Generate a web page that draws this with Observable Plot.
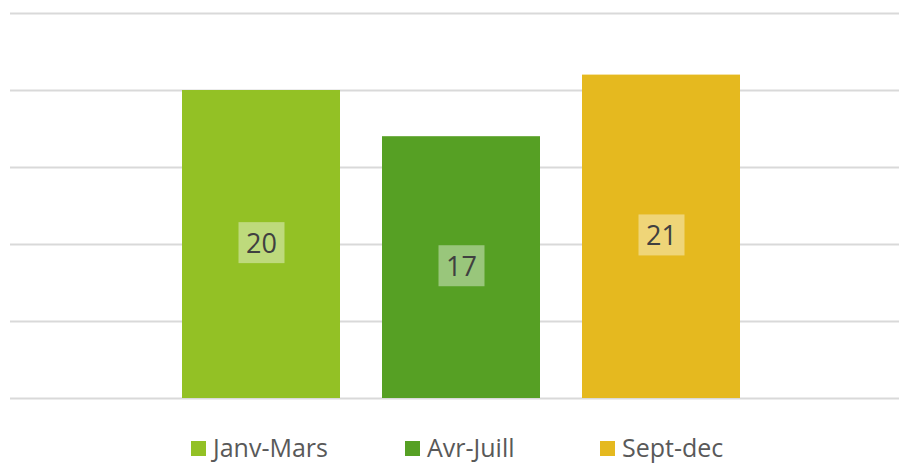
<!DOCTYPE html>
<html>
<head>
<meta charset="utf-8">
<script src="https://cdn.jsdelivr.net/npm/d3@7"></script>
<script src="https://cdn.jsdelivr.net/npm/@observablehq/plot@0.6"></script>
<style>
  html, body { margin: 0; padding: 0; background: #fff; }
  #wrap { position: relative; width: 899px; height: 464px; }
  #legend { position: absolute; top: 432px; left: 0; width: 899px; height: 30px; font-family: "Open Sans", sans-serif; font-size: 25px; line-height: 30px; color: #595959; }
  .item { position: absolute; top: 0; display: flex; align-items: center; height: 30px; white-space: nowrap; }
  .sw { width: 15px; height: 15px; margin-right: 7px; margin-top: 2px; }
</style>
</head>
<body>
<div id="wrap"><div id="chart"></div><div id="legend"></div></div>
<script>
const categories = ["Janv-Mars", "Avr-Juill", "Sept-dec"];
const values = [20, 17, 21];
const colors = ["#93C125", "#56A024", "#E5B91F"];
const gridTicks = [0, 5, 10, 15, 20, 25];

const data = categories.map((c, i) => ({category: c, value: values[i]}));

const chart = Plot.plot({
  width: 899,
  height: 420,
  marginTop: 13,
  marginBottom: 22,
  marginLeft: 10,
  marginRight: 0,
  x: {domain: categories, range: [161, 761], paddingInner: 0.21, paddingOuter: 0.105, axis: null},
  y: {domain: [0, 25], axis: null},
  color: {domain: categories, range: colors},
  marks: [
    Plot.ruleY(gridTicks, {stroke: "#d9d9d9", strokeWidth: 2}),
    Plot.barY(data, {x: "category", y: "value", fill: "category"}),
    Plot.text(data, {x: "category", y: d => d.value / 2, text: d => String(d.value),
      fill: "#404040", fontSize: 27, fontFamily: "Open Sans, sans-serif", className: "vlabel"})
  ]
});
document.getElementById("chart").appendChild(chart);

// white semi-transparent boxes behind value labels
d3.select(chart).selectAll(".vlabel text").each(function() {
  const bb = this.getBBox();
  const w = 46, h = 41;
  const cx = bb.x + bb.width / 2, cy = bb.y + bb.height / 2;
  const r = d3.select(this.parentNode).insert("rect", () => this)
    .attr("x", cx - w / 2).attr("y", cy - h / 2)
    .attr("width", w).attr("height", h)
    .attr("fill", "#ffffff").attr("fill-opacity", 0.4);
  const t = this.getAttribute("transform");
  if (t) r.attr("transform", t);
});

const legendLeft = [191, 405, 600];
const legend = d3.select("#legend");
categories.forEach((c, i) => {
  const it = legend.append("div").attr("class", "item").style("left", legendLeft[i] + "px");
  it.append("div").attr("class", "sw").style("background", colors[i]);
  it.append("span").text(c);
});
</script>
</body>
</html>
